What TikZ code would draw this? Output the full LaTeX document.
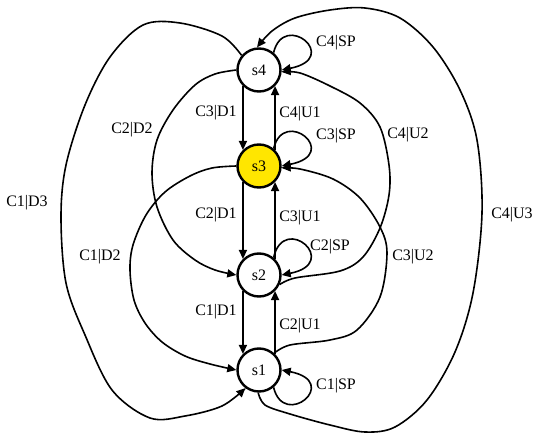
\documentclass[tikz,border=0pt]{standalone}
\usepackage{fontspec}
\setmainfont{Liberation Serif}
\usetikzlibrary{arrows.meta}
\definecolor{stateyellow}{RGB}{255,230,0}
\begin{document}
\begin{tikzpicture}[x=1pt,y=-1pt,
  state/.style={circle,draw,line width=2.4pt,minimum size=43pt,inner sep=0pt,font=\fontsize{16}{18}\selectfont},
  edge/.style={line width=1.6pt,-{Triangle[length=9pt,width=8pt]}},
  lbl/.style={font=\fontsize{16}{18}\selectfont,inner sep=0pt},
  smoothpath/.style={smooth,tension=0.55}]
\useasboundingbox (0,0) rectangle (549,447);

\node[state] (s4) at (259,70) {s4};
\node[state,fill=stateyellow] (s3) at (259,166) {s3};
\node[state] (s2) at (259,275) {s2};
\node[state] (s1) at (259,370) {s1};

% vertical edges
\draw[edge] (s4.225) -- (s3.135);
\draw[edge] (s3.45) -- (s4.-45);
\draw[edge] (s3.225) -- (s2.135);
\draw[edge] (s2.45) -- (s3.-45);
\draw[edge] (s2.225) -- (s1.135);
\draw[edge] (s1.45) -- (s2.-45);

% self loops
\draw[edge] (s4.50) .. controls (284,10) and (342,58) .. (s4.0);
\draw[edge] (s3.50) .. controls (284,106) and (342,154) .. (s3.0);
\draw[edge] (s2.50) .. controls (284,212) and (342,263) .. (s2.0);
\draw[edge] (s1.-50) .. controls (284,430) and (342,382) .. (s1.0);

% left curves
\draw[edge] plot[smoothpath] coordinates {(s4.140) (222,36) (180,23) (143,25) (110,57) (85,105) (66,165) (61,217) (66,283) (85,335) (112,390) (150,418) (185,416) (222,406) (s1.233)};
\draw[edge] plot[smoothpath] coordinates {(s4.180) (215,74) (195,85) (173,110) (157,140) (152,173) (157,207) (173,240) (195,260) (215,270) (s2.180)};
\draw[edge] plot[smoothpath] coordinates {(s3.180) (212,168) (190,176) (165,192) (146,215) (133,245) (130,270) (134,300) (145,323) (162,342) (185,356) (210,364) (s1.180)};

% right curves
\draw[edge] plot[smoothpath] coordinates {(s1.268) (265,405) (290,414) (330,425) (365,432) (395,427) (427,400) (455,352) (473,293) (482,213) (477,140) (460,90) (433,47) (400,18) (365,8) (330,10) (295,18) (272,31) (s4.95)};
\draw[edge] plot[smoothpath] coordinates {(s2.-25) (295,278) (340,271) (363,257) (380,228) (389,195) (389,165) (380,127) (360,103) (330,86) (300,73) (s4.-5)};
\draw[edge] plot[smoothpath] coordinates {(s1.48) (290,345) (330,340) (357,330) (380,297) (387,253) (380,227) (360,198) (333,179) (300,169) (s3.-5)};

% labels
\node[lbl] (l1) at (216,113) {C3|D1};
\node[lbl] (l2) at (300,114) {C4|U1};
\node[lbl] (l3) at (336,43) {C4|SP};
\node[lbl] (l4) at (336,136) {C3|SP};
\node[lbl] (l5) at (216,215) {C2|D1};
\node[lbl] (l6) at (300,218) {C3|U1};
\node[lbl] (l7) at (330,247) {C2|SP};
\node[lbl] (l8) at (216,312) {C1|D1};
\node[lbl] (l9) at (300,326) {C2|U1};
\node[lbl] (l10) at (336,386) {C1|SP};
\node[lbl] (l11) at (132,130) {C2|D2};
\node[lbl] (l12) at (27,203) {C1|D3};
\node[lbl] (l13) at (100,257) {C1|D2};
\node[lbl] (l14) at (408,135) {C4|U2};
\node[lbl] (l15) at (512,215) {C4|U3};
\node[lbl] (l16) at (413,257) {C3|U2};
\end{tikzpicture}
\end{document}
